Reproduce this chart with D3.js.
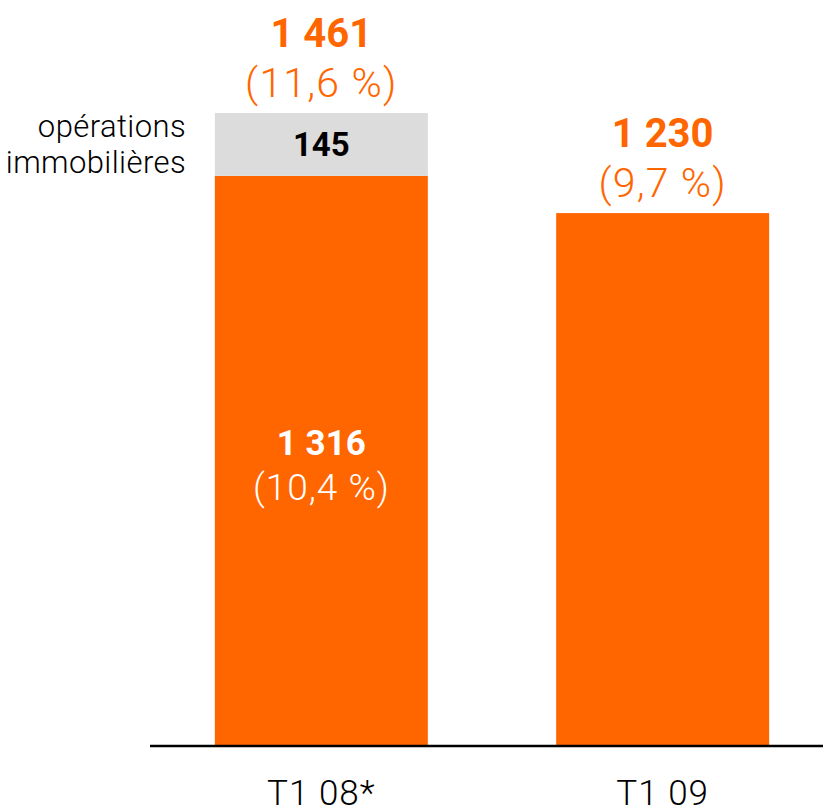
<!DOCTYPE html>
<html><head><meta charset="utf-8">
<script src="https://cdn.jsdelivr.net/npm/d3@7"></script>
<style>
html,body{margin:0;padding:0;background:#fff;}
svg{display:block;font-family:"Helvetica Neue",Roboto,"Liberation Sans",Arial,sans-serif;}
</style></head>
<body>
<svg id="chart" width="823" height="809"></svg>
<script>
const categories = ["T1 08*", "T1 09"];
const baseValues = [1316, 1230];
const extraValues = [145, 0];
const totalValues = [1461, 1230];
const basePct = ["(10,4 %)", null];
const totalPct = ["(11,6 %)", "(9,7 %)"];
const extraLabel = ["opérations", "immobilières"];

const W = 823, H = 809;
const orange = "#FF6600", gray = "#DCDCDC";
const svg = d3.select("#chart");

const x = d3.scaleBand().domain(categories).range([150, 834]).paddingInner(0.376).paddingOuter(0.19);
const y = d3.scaleLinear().domain([0, 1461]).range([746, 113]);
const fmt = v => d3.format(",")(v).replace(/,/g, " ");

// orange base bars
svg.selectAll("rect.base").data(categories).join("rect")
  .attr("x", d => x(d)).attr("width", x.bandwidth())
  .attr("y", (d,i) => y(baseValues[i])).attr("height", (d,i) => y(0) - y(baseValues[i]))
  .attr("fill", orange);

// gray stacked segments
svg.selectAll("rect.extra").data(categories.filter((d,i)=>extraValues[i]>0)).join("rect")
  .attr("x", d => x(d)).attr("width", x.bandwidth())
  .attr("y", d => { const i = categories.indexOf(d); return y(totalValues[i]); })
  .attr("height", d => { const i = categories.indexOf(d); return y(baseValues[i]) - y(totalValues[i]); })
  .attr("fill", gray);

// axis line
svg.append("line").attr("x1", 150).attr("x2", W).attr("y1", y(0)).attr("y2", y(0))
  .attr("stroke", "#000").attr("stroke-width", 2.5);

// category labels
svg.selectAll("text.cat").data(categories).join("text")
  .attr("x", d => x(d) + x.bandwidth()/2).attr("y", 805)
  .attr("text-anchor", "middle").attr("font-size", 35).attr("font-weight", 300)
  .attr("letter-spacing", 1).attr("fill", "#000").text(d => d);

// top labels
categories.forEach((c, i) => {
  const cx = x(c) + x.bandwidth()/2;
  const top = y(totalValues[i]);
  svg.append("text").attr("x", cx).attr("y", top - 66).attr("text-anchor", "middle")
    .attr("font-size", 40).attr("font-weight", 700).attr("fill", orange).text(fmt(totalValues[i]));
  svg.append("text").attr("x", cx).attr("y", top - 16).attr("text-anchor", "middle")
    .attr("font-size", 41).attr("font-weight", 300).attr("letter-spacing", 1.2)
    .attr("fill", orange).text(totalPct[i]);
  if (extraValues[i] > 0) {
    const midY = (y(baseValues[i]) + y(totalValues[i])) / 2;
    svg.append("text").attr("x", cx).attr("y", midY + 12).attr("text-anchor", "middle")
      .attr("font-size", 33).attr("font-weight", 700).attr("fill", "#000").text(fmt(extraValues[i]));
    svg.append("text").attr("x", 186).attr("y", midY - 7).attr("text-anchor", "end")
      .attr("font-size", 31).attr("font-weight", 300).attr("letter-spacing", 0.4)
      .attr("fill", "#000").text(extraLabel[0]);
    svg.append("text").attr("x", 186).attr("y", midY + 29).attr("text-anchor", "end")
      .attr("font-size", 31).attr("font-weight", 300).attr("letter-spacing", 0.4)
      .attr("fill", "#000").text(extraLabel[1]);
  }
  if (basePct[i]) {
    svg.append("text").attr("x", cx).attr("y", 455).attr("text-anchor", "middle")
      .attr("font-size", 35).attr("font-weight", 700).attr("fill", "#fff").text(fmt(baseValues[i]));
    svg.append("text").attr("x", cx).attr("y", 500).attr("text-anchor", "middle")
      .attr("font-size", 37).attr("font-weight", 300).attr("letter-spacing", 1)
      .attr("fill", "#fff").text(basePct[i]);
  }
});
</script>
</body></html>
